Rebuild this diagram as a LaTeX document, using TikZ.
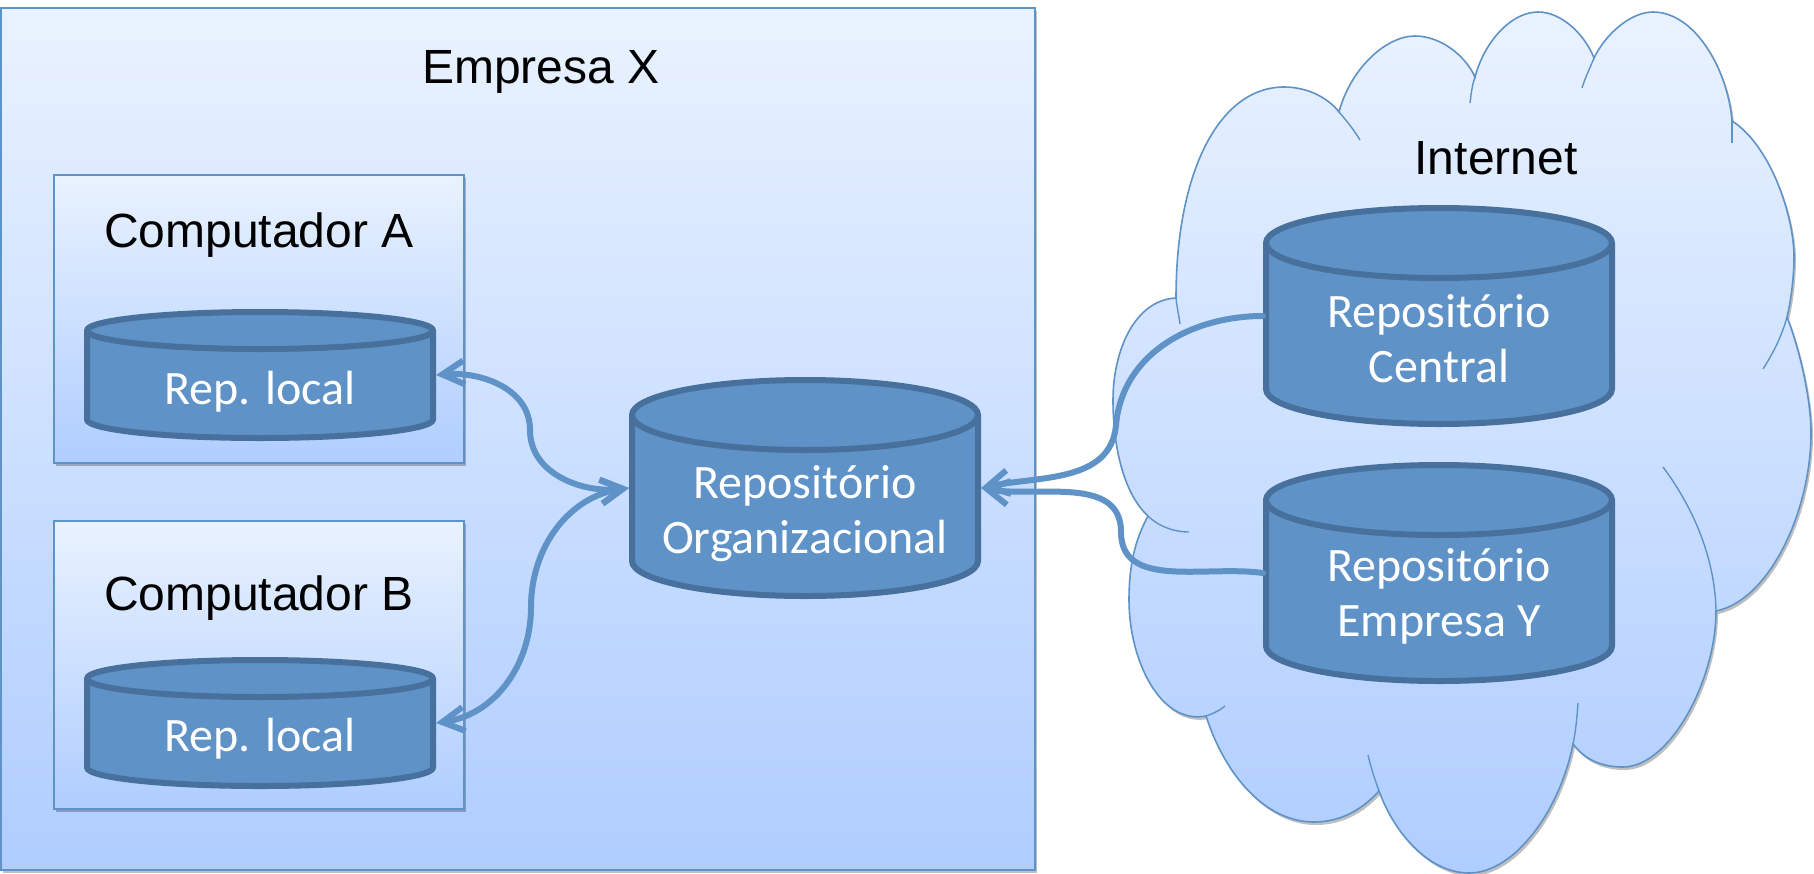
\documentclass[tikz,border=0pt]{standalone}
\usepackage{fontspec}
\setmainfont{Liberation Sans}
\newfontfamily\repofont{Carlito}
\usetikzlibrary{arrows.meta}
\usetikzlibrary{shadows}
\definecolor{edgeblue}{HTML}{5F92C7}
\definecolor{repofill}{HTML}{5F92C7}
\definecolor{repoline}{HTML}{47709C}
\definecolor{skytop}{HTML}{E9F2FF}
\definecolor{skybottom}{HTML}{AFCDFF}
\tikzset{
  softshadow/.style={drop shadow={shadow xshift=1pt,shadow yshift=-1.5pt,opacity=.25,fill=black}},
  box/.style={draw=edgeblue,line width=.8pt,top color=skytop,bottom color=skybottom,softshadow,inner sep=0pt},
  title/.style={font=\fontsize{24}{28}\selectfont,text=black},
  repobox/.style={minimum width=176pt,inner sep=0pt,outer sep=0pt},
  repotext/.style={align=center,text=white,inner sep=0pt,font=\repofont\fontsize{24}{27.5}\selectfont},
  drumline/.style={draw=repoline,line width=3pt},
  link/.style={draw=edgeblue,line width=3pt,line cap=round,>={Straight Barb[length=11pt,width=12pt]}},
  lobe/.style={draw=edgeblue,line width=.7pt}
}
\newcommand{\repodrum}[3]{
  \draw[drumline,fill=repofill] ([shift={(-86.5pt,#2-#3)}]#1.center) -- ([shift={(-86.5pt,-#2+#3)}]#1.center)
    arc[start angle=180,end angle=360,x radius=86.5pt,y radius=#3]
    -- ([shift={(86.5pt,#2-#3)}]#1.center)
    arc[start angle=0,end angle=180,x radius=86.5pt,y radius=#3] -- cycle;
  \draw[drumline] ([shift={(86.5pt,#2-#3)}]#1.center)
    arc[start angle=360,end angle=180,x radius=86.5pt,y radius=#3];
}
\begin{document}
\begin{tikzpicture}[x=0.5pt,y=-0.5pt]
  \useasboundingbox (0,0) rectangle (1814,873);

  \node[box,minimum width=517pt,minimum height=431pt] (empresa) at (518,439) {};
  \node[box,minimum width=205pt,minimum height=144pt] (compa) at (259,319) {};
  \node[box,minimum width=205pt,minimum height=144pt] (compb) at (259,665) {};

  \path[draw=edgeblue,line width=.8pt,top color=skytop,bottom color=skybottom,softshadow]
    (1176,298) .. controls (1176,170) and (1220,87) .. (1284,87)
    .. controls (1310,87) and (1330,100) .. (1339,112)
    .. controls (1350,70) and (1385,36) .. (1415,36)
    .. controls (1440,36) and (1465,55) .. (1475,77)
    .. controls (1485,40) and (1512,12) .. (1538,12)
    .. controls (1562,12) and (1585,35) .. (1594,58)
    .. controls (1605,35) and (1630,12) .. (1653,12)
    .. controls (1695,12) and (1728,70) .. (1732,121)
    .. controls (1770,145) and (1794,215) .. (1794,257)
    .. controls (1794,280) and (1790,305) .. (1787,317)
    .. controls (1800,350) and (1811,400) .. (1811,433)
    .. controls (1811,510) and (1770,600) .. (1716,611)
    .. controls (1716,680) and (1670,767) .. (1623,767)
    .. controls (1602,767) and (1585,760) .. (1573,744)
    .. controls (1560,810) and (1515,873) .. (1469,873)
    .. controls (1430,873) and (1395,835) .. (1379,791)
    .. controls (1360,812) and (1338,822) .. (1314,822)
    .. controls (1265,822) and (1225,775) .. (1206,716)
    .. controls (1160,725) and (1129,660) .. (1129,600)
    .. controls (1129,565) and (1135,540) .. (1148,516)
    .. controls (1125,495) and (1113,450) .. (1113,400)
    .. controls (1113,350) and (1135,300) .. (1176,298) -- cycle;

  \draw[lobe] (1339,112) .. controls (1346,120) and (1354,130) .. (1360,140);
  \draw[lobe] (1475,77) .. controls (1472,85) and (1471,95) .. (1470,103);
  \draw[lobe] (1594,58) .. controls (1590,68) and (1585,78) .. (1582,88);
  \draw[lobe] (1732,121) -- (1732,143);
  \draw[lobe] (1176,298) .. controls (1177,308) and (1179,316) .. (1180,324);
  \draw[lobe] (1787,317) .. controls (1782,335) and (1775,350) .. (1763,369);
  \draw[lobe] (1663,467) .. controls (1695,510) and (1715,560) .. (1716,611);
  \draw[lobe] (1573,744) .. controls (1576,730) and (1577,716) .. (1578,703);
  \draw[lobe] (1379,791) .. controls (1375,780) and (1371,768) .. (1368,755);
  \draw[lobe] (1206,716) .. controls (1212,714) and (1219,711) .. (1225,706);
  \draw[lobe] (1148,516) .. controls (1157,525) and (1172,532) .. (1189,532);

  \node[title] (empresalabel) at (541,72) {Empresa X};
  \node[title] (compalabel) at (259,235) {Computador A};
  \node[title] (compblabel) at (259,598) {Computador B};
  \node[title] (internetlabel) at (1496,158) {Internet};

  \begin{scope}[every node/.style={repobox,minimum height=66pt}]
    \node (repa) at (260,375) {};
    \node (repb) at (260,723) {};
  \end{scope}

  \begin{scope}[every node/.style={repobox,minimum height=111pt}]
    \node (org) at (805,488) {};
    \node (central) at (1439,316) {};
    \node (empresay) at (1439,573) {};
  \end{scope}

  \repodrum{repa}{31.5pt}{9.25pt}
  \repodrum{repb}{31.5pt}{9.25pt}
  \repodrum{org}{54pt}{17.5pt}
  \repodrum{central}{54pt}{17.5pt}
  \repodrum{empresay}{54pt}{17.5pt}

  \begin{scope}[every node/.style={repotext}]
    \node (repatext) at (260,392) {Rep. local};
    \node (repbtext) at (260,739) {Rep. local};
    \node (orgtext) at (805,514) {Repositório\\Organizacional};
    \node (centraltext) at (1439,339) {Repositório\\Central};
    \node (empresaytext) at (1439,596) {Repositório\\Empresa Y};
  \end{scope}

  \coordinate (kneea) at (530,430);
  \coordinate (kneeb) at (531,607);
  \coordinate (kneec) at (1116,425);
  \coordinate (kneey) at (1121,532);

  \draw[link,<->] (repa.east) to[out=5,in=90] (kneea) to[out=-90,in=187] (org.west);
  \draw[link,<->] (repb.east) to[out=8,in=-90] (kneeb) to[out=90,in=188] (org.west);
  \draw[link,->] (central.west) to[out=180,in=85] (kneec) to[out=-95,in=12] (org.east);
  \draw[link,->] (empresay.west) to[out=172,in=-90] (kneey) to[out=90,in=-10] (org.east);
\end{tikzpicture}
\end{document}
